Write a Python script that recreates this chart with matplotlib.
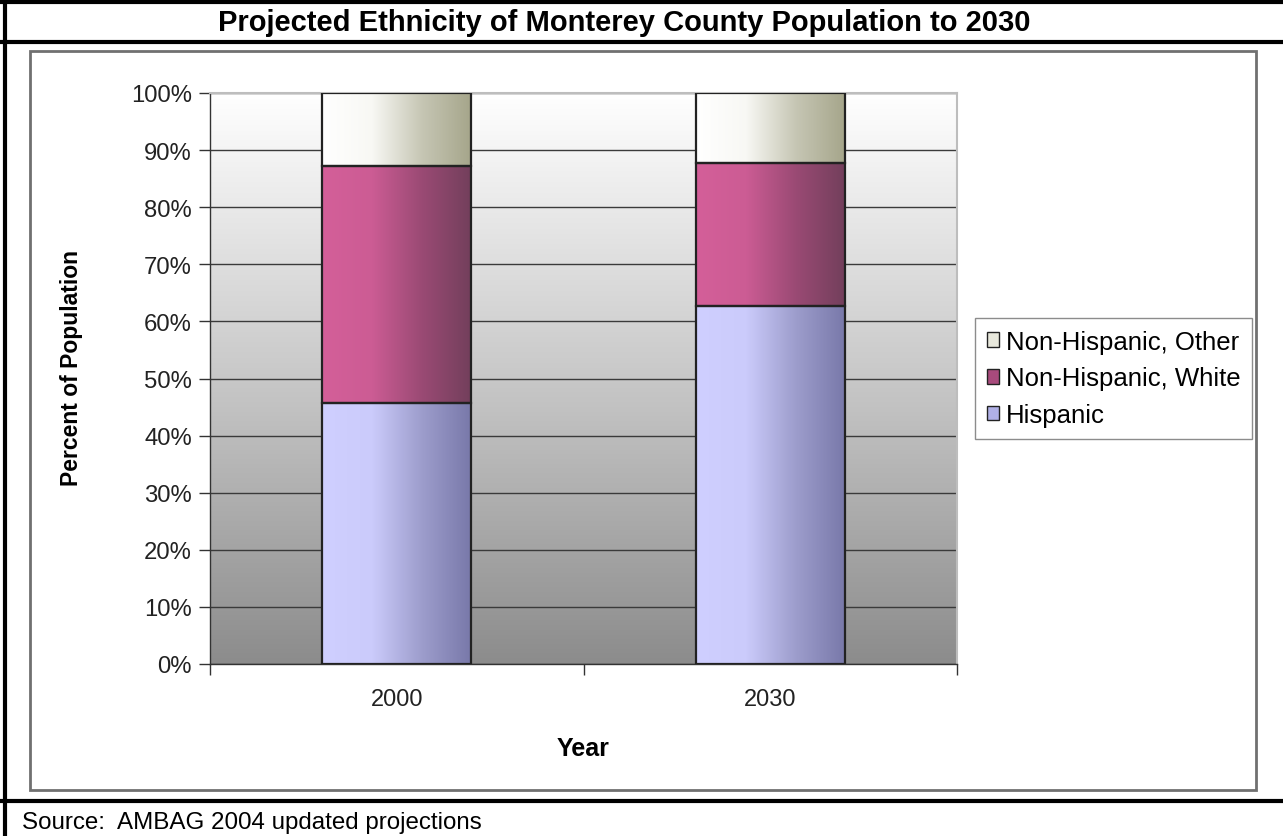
import numpy as np
import matplotlib
matplotlib.use("Agg")
import matplotlib.pyplot as plt
from matplotlib.colors import LinearSegmentedColormap
from matplotlib.patches import Patch, Rectangle
from matplotlib.lines import Line2D

plt.rcParams['font.family'] = ['Liberation Sans', 'DejaVu Sans']

years = ["2000", "2030"]
hispanic = [45.7, 62.7]
nh_white = [41.6, 25.0]
nh_other = [12.7, 12.3]
series_names = ["Hispanic", "Non-Hispanic, White", "Non-Hispanic, Other"]
yticks = list(range(0, 101, 10))

# gradient colours per series (left -> right)
grads = {
    "Hispanic": ["#cfcfff", "#cbcbfb", "#9d9dcc", "#7878a9"],
    "Non-Hispanic, White": ["#d45f99", "#cc5c94", "#9a4a74", "#723f5b"],
    "Non-Hispanic, Other": ["#ffffff", "#f8f8f4", "#c6c6b4", "#a5a58a"],
}
legend_cols = {
    "Hispanic": "#b0b0e6",
    "Non-Hispanic, White": "#a84a7c",
    "Non-Hispanic, Other": "#e8e8dc",
}

W, H = 1283, 837
fig = plt.figure(figsize=(W / 100, H / 100), dpi=100)

# frame lines of the whole figure
def fline(x0, y0, x1, y1, color="black", lw=3):
    fig.add_artist(Line2D([x0 / W, x1 / W], [1 - y0 / H, 1 - y1 / H],
                          color=color, lw=lw, solid_capstyle="butt"))

fline(0, 3, W, 3)
fline(0, 43, W, 43)
fline(0, 802, W, 802)
fline(5, 0, 5, H)
fig.add_artist(Rectangle((30 / W, 1 - 791 / H), (1256 - 30) / W, (791 - 52) / H,
                         transform=fig.transFigure, fill=False,
                         edgecolor="#707070", lw=2))

fig.text(624 / W, 1 - 23 / H, "Projected Ethnicity of Monterey County Population to 2030",
         ha="center", va="center", fontsize=21, fontweight="bold")
fig.text(22 / W, 1 - 823 / H, "Source:  AMBAG 2004 updated projections",
         ha="left", va="center", fontsize=17.4)

ax = fig.add_axes([210 / W, 1 - 665 / H, (957 - 210) / W, (665 - 94) / H])

x = np.arange(len(years))
xlim = (-0.5, 1.5)
ylim = (0, 100)

# plot area background: white at top, gray at bottom
bg = LinearSegmentedColormap.from_list("bg", ["#8c8c8c", "#c8c8c8", "#ffffff"])
ax.imshow(np.linspace(0, 1, 256).reshape(-1, 1), cmap=bg, aspect="auto",
          extent=(xlim[0], xlim[1], ylim[0], ylim[1]), origin="lower", zorder=0)

ax.grid(axis="y", color="#3a3a3a", lw=1)
ax.set_axisbelow(True)

bottom = np.zeros(len(years))
for name, vals in zip(series_names, [hispanic, nh_white, nh_other]):
    bars = ax.bar(x, vals, 0.4, bottom=bottom, facecolor="none",
                  edgecolor="#222222", lw=1.6, zorder=3, label=name)
    cmap = LinearSegmentedColormap.from_list(name, grads[name])
    for b in bars:
        x0, y0 = b.get_x(), b.get_y()
        ax.imshow(np.linspace(0, 1, 256).reshape(1, -1), cmap=cmap, aspect="auto",
                  extent=(x0, x0 + b.get_width(), y0, y0 + b.get_height()),
                  zorder=2)
    bottom += np.array(vals)

ax.set_xlim(*xlim)
ax.set_ylim(*ylim)

ax.set_yticks(yticks)
ax.set_yticklabels([f"{v}%" for v in yticks])
ax.tick_params(axis="y", direction="out", length=8, width=1, color="#333333",
               labelsize=17.2, labelcolor="#222222", pad=5)
ax.set_xticks(x)
ax.set_xticklabels(years)
ax.tick_params(axis="x", length=0, labelsize=17, labelcolor="#222222", pad=17)
ax.set_xticks([-0.5, 0.5, 1.5], minor=True)
ax.tick_params(axis="x", which="minor", direction="out", length=8, width=1,
               color="#333333")

for s in ["top", "right"]:
    ax.spines[s].set_color("#bdbdbd")
    ax.spines[s].set_linewidth(1.5)
for s in ["left", "bottom"]:
    ax.spines[s].set_color("#333333")
    ax.spines[s].set_linewidth(1)

ax.set_ylabel("Percent of Population", fontsize=16.5, fontweight="bold")
ax.yaxis.set_label_coords(-127 / 747, 0.52)
ax.set_xlabel("Year", fontsize=18, fontweight="bold", labelpad=19)

handles = [Patch(facecolor=legend_cols[n], edgecolor="#222222", lw=1)
           for n in reversed(series_names)]
leg = fig.legend(handles, list(reversed(series_names)), loc="upper left",
                 bbox_to_anchor=(975 / W, 1 - 319 / H), fontsize=18.5,
                 frameon=True, fancybox=False, edgecolor="#707070",
                 handlelength=0.5, handleheight=0.5, handletextpad=0.25,
                 borderpad=0.45, labelspacing=0.5, borderaxespad=0)
leg.get_frame().set_linewidth(1)

fig.savefig("out.png", dpi=100)
